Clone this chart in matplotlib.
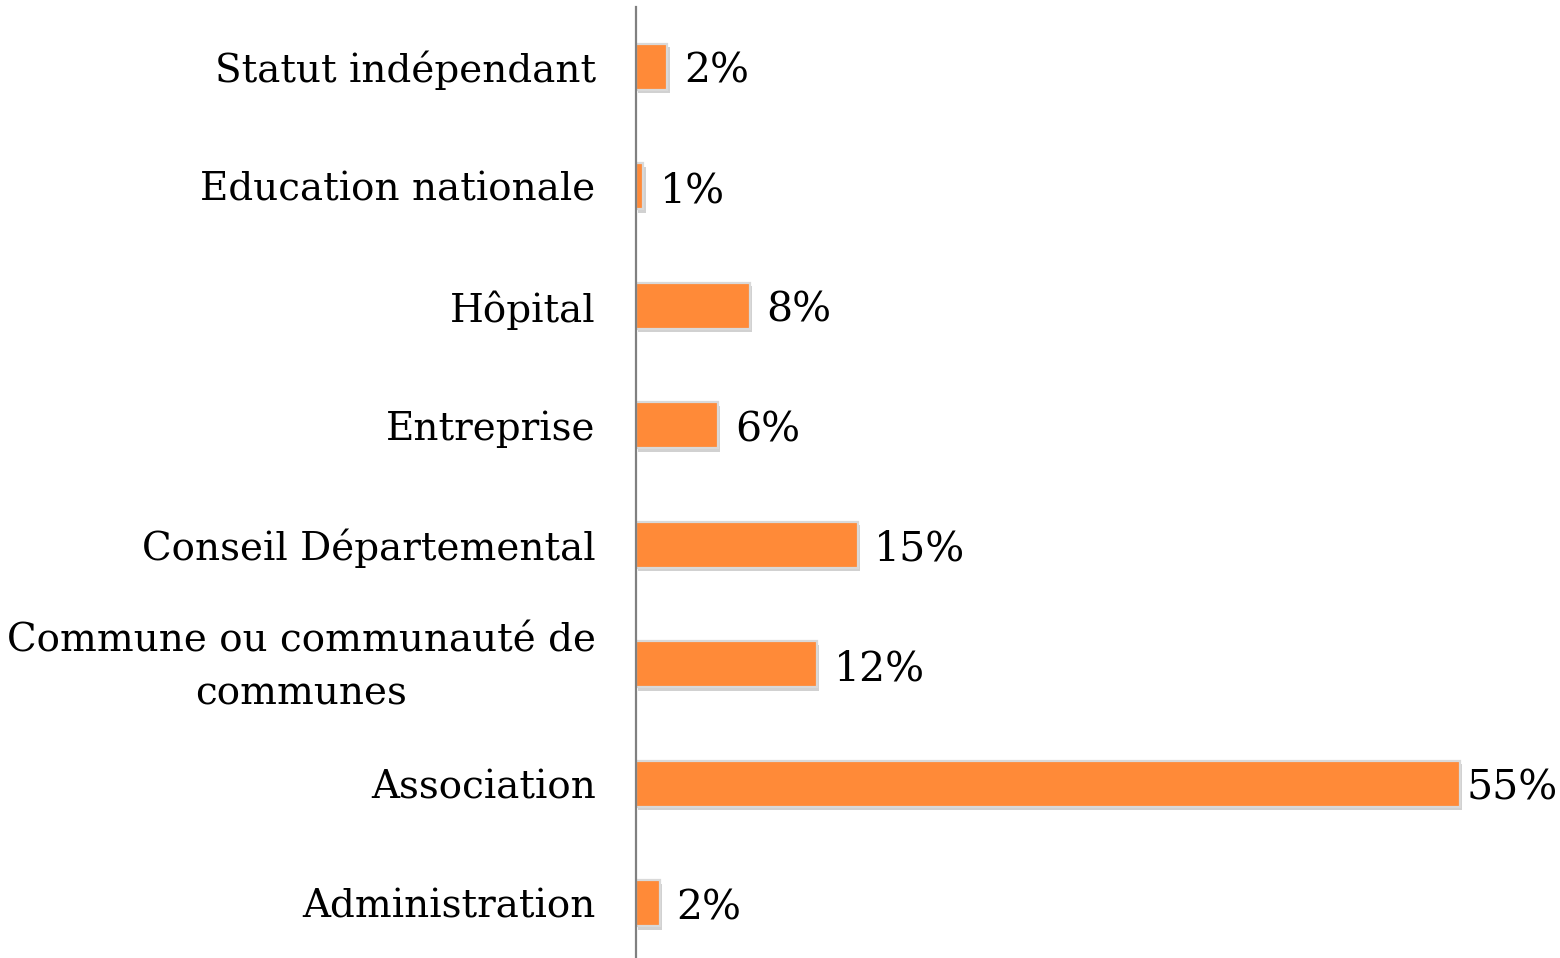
import matplotlib
matplotlib.use("Agg")
import matplotlib.pyplot as plt
import matplotlib.patheffects as pe
import matplotlib.transforms as mtransforms

categories = ["Administration", "Association", "Commune ou communauté de\ncommunes",
              "Conseil Départemental", "Entreprise", "Hôpital",
              "Education nationale", "Statut indépendant"]
values = [1.6, 55.0, 12.1, 14.8, 5.5, 7.6, 0.5, 2.1]
value_labels = ["2%", "55%", "12%", "15%", "6%", "8%", "1%", "2%"]

W, H = 1560, 958
fig = plt.figure(figsize=(W / 100, H / 100), dpi=100)
ax = fig.add_axes([636 / W, -5 / H, (W - 636) / W, 956 / H])

FONT = "DejaVu Serif"
FS_CAT = 28
FS_VAL = 29.5

y = list(range(len(categories)))
bars = ax.barh(y, values, height=0.385, color="#FF8A38", edgecolor="#D9D9D9",
               linewidth=1.6, zorder=3)
for b in bars:
    b.set_path_effects([pe.SimplePatchShadow(offset=(1.5, -2.5), shadow_rgbFace="#000000", alpha=0.18),
                        pe.Normal()])

ax.set_xlim(0, 61.7)
ax.set_ylim(-0.5, len(categories) - 0.5)
ax.set_yticks(y)
ax.set_yticklabels(categories, fontsize=FS_CAT, family=FONT, multialignment="center",
                   linespacing=1.55)
ax.tick_params(axis="y", length=0, pad=29)
ax.set_xticks([])
for s in ["top", "right", "bottom"]:
    ax.spines[s].set_visible(False)
ax.spines["left"].set_color("#808080")
ax.spines["left"].set_linewidth(1.6)
ax.spines["left"].set_zorder(4)

# nudge multi-line labels so the block is centred on its bar
for lbl in ax.get_yticklabels():
    if "\n" in lbl.get_text():
        lbl.set_transform(lbl.get_transform() +
                          mtransforms.ScaledTranslation(0, 9 / 100, fig.dpi_scale_trans))

texts = []
for yi, v, lab in zip(y, values, value_labels):
    t = ax.annotate(lab, xy=(v, yi), xytext=(12, -3.5), textcoords="offset points",
                    ha="left", va="center", fontsize=FS_VAL, family=FONT, color="black",
                    annotation_clip=False)
    texts.append(t)

fig.canvas.draw()
r = fig.canvas.get_renderer()
for t in texts:
    bb = t.get_window_extent(r)
    if bb.x1 > W - 2:
        shift = (bb.x1 - (W - 2)) * 72 / 100
        x0, y0 = t.xyann
        t.xyann = (x0 - shift, y0)

fig.savefig("out.png", dpi=100, facecolor="white")
